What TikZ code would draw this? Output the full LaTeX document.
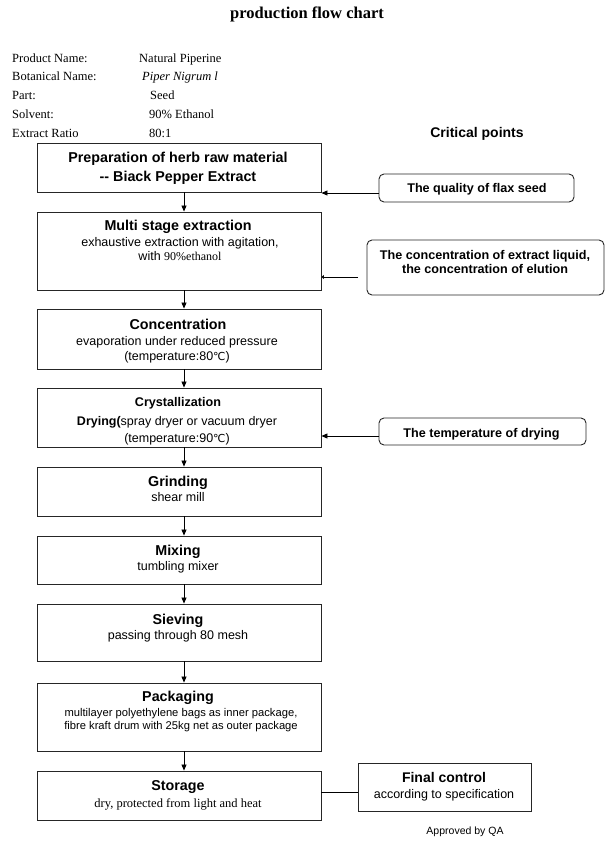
\documentclass[tikz,border=0pt]{standalone}
\usepackage{fontspec}
\setmainfont{Liberation Serif}
\setsansfont{Liberation Sans}
\newfontfamily\djv{DejaVu Sans}
\usetikzlibrary{arrows.meta}
\newcommand{\degcel}{{\djv\fontsize{11}{12}\selectfont ℃}}
\begin{document}
\begin{tikzpicture}[x=1pt,y=-1pt,
  box/.style={draw=black!85,line width=0.9pt,minimum width=284pt,inner sep=0pt},
  crit/.style={draw=black!85,line width=0.9pt,rounded corners=5pt,inner sep=0pt},
  fcbox/.style={draw=black!85,line width=0.9pt,inner sep=0pt},
  txt/.style={anchor=base,inner sep=0pt},
  ttl/.style={txt,font=\sffamily\bfseries\fontsize{14.3}{16}\selectfont},
  ttls/.style={txt,font=\sffamily\bfseries\fontsize{12.6}{14}\selectfont},
  sub/.style={txt,font=\sffamily\fontsize{12.5}{14}\selectfont},
  subs/.style={txt,font=\sffamily\fontsize{11.2}{13}\selectfont},
  ser/.style={txt,font=\fontsize{12.5}{14}\selectfont},
  crt/.style={txt,font=\sffamily\bfseries\fontsize{12.6}{14}\selectfont},
  hdr/.style={anchor=base west,inner sep=0pt,font=\fontsize{12.5}{14}\selectfont},
  arr/.style={line width=0.8pt,-{Triangle[length=6pt,width=5pt]}},
  tick/.style={line width=0.8pt,-{Triangle[length=2.5pt,width=4pt]}},
  conn/.style={line width=0.8pt}]
\fill[white] (0,0) rectangle (609,842);
\useasboundingbox (0,0) rectangle (609,842);

% title and header
\node[txt,font=\bfseries\fontsize{16.5}{18}\selectfont] (title) at (307,19) {production flow chart};
\node[hdr] (h1) at (12,62.5) {Product Name:};
\node[hdr] (h2) at (12,81) {Botanical Name:};
\node[hdr] (h3) at (12,99.5) {Part:};
\node[hdr] (h4) at (12,118.5) {Solvent:};
\node[hdr] (h5) at (12,137.5) {Extract Ratio};
\node[hdr] (v1) at (139,62.5) {Natural Piperine};
\node[hdr] (v2) at (142,81) {\itshape Piper Nigrum l};
\node[hdr] (v3) at (150,99.5) {Seed};
\node[hdr] (v4) at (149,118.5) {90\% Ethanol};
\node[hdr] (v5) at (149,137.5) {80:1};
\node[txt,font=\sffamily\bfseries\fontsize{14}{16}\selectfont] (cp) at (477,137.5) {Critical points};

% main boxes
\node[box,minimum height=49pt] (b1) at (179,167.5) {};
\node[box,minimum height=78pt] (b2) at (179,251) {};
\node[box,minimum height=60pt] (b3) at (179,339) {};
\node[box,minimum height=59pt] (b4) at (179,417.5) {};
\node[box,minimum height=49pt] (b5) at (179,491.5) {};
\node[box,minimum height=48pt] (b6) at (179,560) {};
\node[box,minimum height=57pt] (b7) at (179,632.5) {};
\node[box,minimum height=68pt] (b8) at (179,717) {};
\node[box,minimum height=49pt] (b9) at (179,795.5) {};

% texts in main boxes
\node[ttl] (t1a) at (178,163) {Preparation of herb raw material};
\node[ttl] (t1b) at (178,182) {-{}- Biack Pepper Extract};
\node[ttl] (t2a) at (178,230.7) {Multi stage extraction};
\node[sub] (t2b) at (180,246) {exhaustive extraction with agitation,};
\node[sub] (t2c) at (180,260.7) {with {\rmfamily\fontsize{12}{14}\selectfont 90\%ethanol}};
\node[ttl] (t3a) at (178,329.3) {Concentration};
\node[sub] (t3b) at (177,345) {evaporation under reduced pressure};
\node[sub] (t3c) at (177,360) {(temperature:80\degcel)};
\node[ttls] (t4a) at (178,406) {Crystallization};
\node[sub] (t4b) at (177,425) {\textbf{Drying(}spray dryer or vacuum dryer};
\node[sub] (t4c) at (177,442.5) {(temperature:90\degcel)};
\node[ttl] (t5a) at (178,486) {Grinding};
\node[sub] (t5b) at (178,501.7) {shear mill};
\node[ttl] (t6a) at (178,555) {Mixing};
\node[sub] (t6b) at (178,570.7) {tumbling mixer};
\node[ttl] (t7a) at (178,624.3) {Sieving};
\node[sub] (t7b) at (178,639.3) {passing through 80 mesh};
\node[ttl] (t8a) at (178,701.7) {Packaging};
\node[subs] (t8b) at (181,716) {multilayer polyethylene bags as inner package,};
\node[subs] (t8c) at (181,729) {fibre kraft drum with 25kg net as outer package};
\node[ttl] (t9a) at (178,790) {Storage};
\node[ser] (t9b) at (178,807.3) {dry, protected from light and heat};

% critical point boxes
\node[crit,minimum width=195pt,minimum height=28pt] (q1) at (476.5,188) {};
\node[crt] (q1t) at (477,192.7) {The quality of flax seed};
\node[crit,minimum width=237pt,minimum height=55pt] (q2) at (485.5,267.5) {};
\node[crt] (q2a) at (485,259) {The concentration of extract liquid,};
\node[crt] (q2b) at (485,273.3) {the concentration of elution};
\node[crit,minimum width=207pt,minimum height=27pt] (q3) at (482.5,431.5) {};
\node[crt] (q3t) at (481.5,437.3) {The temperature of drying};
\node[fcbox,minimum width=173pt,minimum height=48pt] (fc) at (444.5,787) {};
\node[ttl,font=\sffamily\bfseries\fontsize{14}{16}\selectfont] (fca) at (444,782.7) {Final control};
\node[sub] (fcb) at (444,798.3) {according to specification};
\node[txt,font=\sffamily\fontsize{10.5}{12}\selectfont] (qa) at (465,834.3) {Approved by QA};

% flow arrows
\foreach \a/\b in {b1/b2,b2/b3,b3/b4,b4/b5,b5/b6,b6/b7,b7/b8,b8/b9}
  \draw[arr] ([xshift=5pt]\a.south) -- ([xshift=5pt]\b.north);

% critical connectors
\coordinate (c1) at (379,193);
\draw[arr] (c1) -- (c1 -| b1.east);
\coordinate (c2) at (358,277);
\draw[tick] (c2) -- (c2 -| b2.east);
\coordinate (c3) at (379,436);
\draw[arr] (c3) -- (c3 -| b4.east);
\coordinate (c4) at (358,792);
\draw[conn] (c4 -| b9.east) -- (c4);
\end{tikzpicture}
\end{document}
